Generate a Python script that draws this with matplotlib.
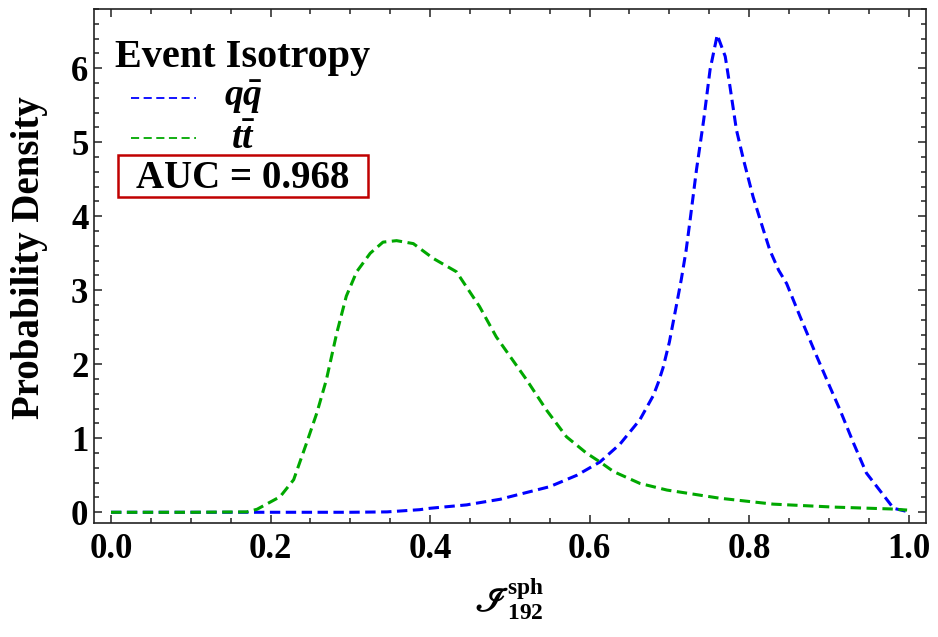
import matplotlib
matplotlib.use("Agg")
import matplotlib.pyplot as plt
from matplotlib.lines import Line2D
from matplotlib.patches import Rectangle
from matplotlib.ticker import MultipleLocator

# ---- data ----
qq_x = [0.0, 0.10, 0.20, 0.30, 0.346, 0.387, 0.40, 0.446, 0.450, 0.488, 0.50, 0.55, 0.584,
        0.613, 0.638, 0.663, 0.680, 0.686, 0.692, 0.700, 0.708, 0.715, 0.721, 0.726, 0.734,
        0.743, 0.751, 0.760, 0.770, 0.776, 0.784, 0.793, 0.805, 0.818, 0.826, 0.837,
        0.847, 0.864, 0.885, 0.901, 0.914, 0.931, 0.947, 0.981, 0.998]
qq_y = [0.0, 0.0, 0.0, 0.0, 0.005, 0.035, 0.054, 0.10, 0.108, 0.176, 0.21, 0.346, 0.50,
        0.68, 0.92, 1.25, 1.58, 1.75, 1.95, 2.30, 2.75, 3.15, 3.54, 3.95, 4.63,
        5.30, 5.98, 6.45, 6.16, 5.75, 5.17, 4.76, 4.26, 3.81, 3.54, 3.27,
        3.09, 2.64, 2.10, 1.70, 1.38, 0.93, 0.53, 0.054, 0.01]

tt_x = [0.0, 0.10, 0.170, 0.183, 0.212, 0.229, 0.245, 0.258, 0.270, 0.283, 0.295, 0.308,
        0.325, 0.341, 0.358, 0.379, 0.404, 0.433, 0.462, 0.483, 0.521, 0.546, 0.571,
        0.596, 0.613, 0.630, 0.663, 0.697, 0.763, 0.830, 0.906, 0.977, 0.998]
tt_y = [0.0, 0.0, 0.005, 0.04, 0.21, 0.44, 0.93, 1.34, 1.79, 2.42, 2.92, 3.25,
        3.50, 3.65, 3.67, 3.63, 3.43, 3.25, 2.78, 2.37, 1.79, 1.38, 1.02,
        0.80, 0.68, 0.55, 0.39, 0.30, 0.19, 0.11, 0.07, 0.045, 0.03]

series_labels = [r"$q\bar{q}$", r"$t\bar{t}$"]
legend_title = "Event Isotropy"
auc_text = "AUC = 0.968"
x_label = r"$\mathsf{ℐ}^{\mathbf{sph}}_{\mathbf{192}}$"
y_label = "Probability Density"
x_ticks = [0.0, 0.2, 0.4, 0.6, 0.8, 1.0]
y_ticks = [0, 1, 2, 3, 4, 5, 6]

# ---- style ----
plt.rcParams["font.family"] = ["Liberation Serif", "DejaVu Serif"]
plt.rcParams["font.weight"] = "bold"
plt.rcParams["mathtext.fontset"] = "custom"
plt.rcParams["mathtext.rm"] = "Liberation Serif:bold"
plt.rcParams["mathtext.it"] = "Liberation Serif:italic:bold"
plt.rcParams["mathtext.bf"] = "Liberation Serif:bold"
plt.rcParams["mathtext.sf"] = "STIXGeneral:italic"

blue = "#0000ff"
green = "#00a800"
lw = 2.2
dash = (3.4, 1.8)

fig = plt.figure(figsize=(9.38, 6.37), dpi=100)
ax = fig.add_axes([94/938, 1-523/637, 832/938, 514/637])

ax.plot(qq_x, qq_y, color=blue, lw=lw, dashes=dash)
ax.plot(tt_x, tt_y, color=green, lw=lw, dashes=dash)

ax.set_xlim(-0.0213, 1.0217)
ax.set_ylim(-0.145, 6.80)
ax.set_xticks(x_ticks)
ax.set_xticklabels([f"{t:.1f}" for t in x_ticks])
ax.set_yticks(y_ticks)
ax.set_yticklabels([str(t) for t in y_ticks])
ax.xaxis.set_minor_locator(MultipleLocator(0.05))
ax.yaxis.set_minor_locator(MultipleLocator(0.2))
ax.tick_params(which="both", direction="in", top=True, right=True,
               width=1.1, color="#222222")
ax.tick_params(which="major", length=5.5, labelsize=25)
ax.tick_params(which="minor", length=3.4)
ax.tick_params(axis="x", which="major", pad=7)
ax.tick_params(axis="y", which="major", pad=4)
for t in ax.get_xticklabels() + ax.get_yticklabels():
    t.set_fontweight("bold")
for s in ax.spines.values():
    s.set_linewidth(1.2)
    s.set_color("#222222")

ax.set_ylabel(y_label, fontsize=28, fontweight="bold", va="center")
ax.yaxis.set_label_coords((30 - 94) / 832, (523 - 258) / 514)
ax.set_xlabel(x_label, fontsize=24)
ax.xaxis.set_label_coords((509 - 94) / 832, (523 - 577) / 514)

# ---- legend (manual, Mathematica-style) ----
def fx(px):
    return (px - 94) / 832
def fy(py):
    return (523 - py) / 514

ax.text(fx(115), fy(67), legend_title, transform=ax.transAxes, fontsize=29,
        fontweight="bold", ha="left", va="baseline")
for i, (c, lab) in enumerate(zip([blue, green], series_labels)):
    yy = fy(98 + 40 * i)
    ax.add_line(Line2D([fx(131), fx(196)], [yy, yy], transform=ax.transAxes,
                       color=c, lw=1.3, dashes=(4.5, 2.5)))
    ax.text(fx(243), fy(106 + 43 * i), lab, transform=ax.transAxes, fontsize=27,
            ha="center", va="baseline")
ax.add_patch(Rectangle((fx(118), fy(197)), fx(368) - fx(118), fy(155) - fy(197),
                       transform=ax.transAxes, facecolor="white",
                       edgecolor="#c00000", linewidth=1.8, zorder=5))
ax.text(fx(243), fy(188), auc_text, transform=ax.transAxes, fontsize=28,
        fontweight="bold", ha="center", va="baseline", zorder=6)

fig.savefig("out.png", dpi=100)
